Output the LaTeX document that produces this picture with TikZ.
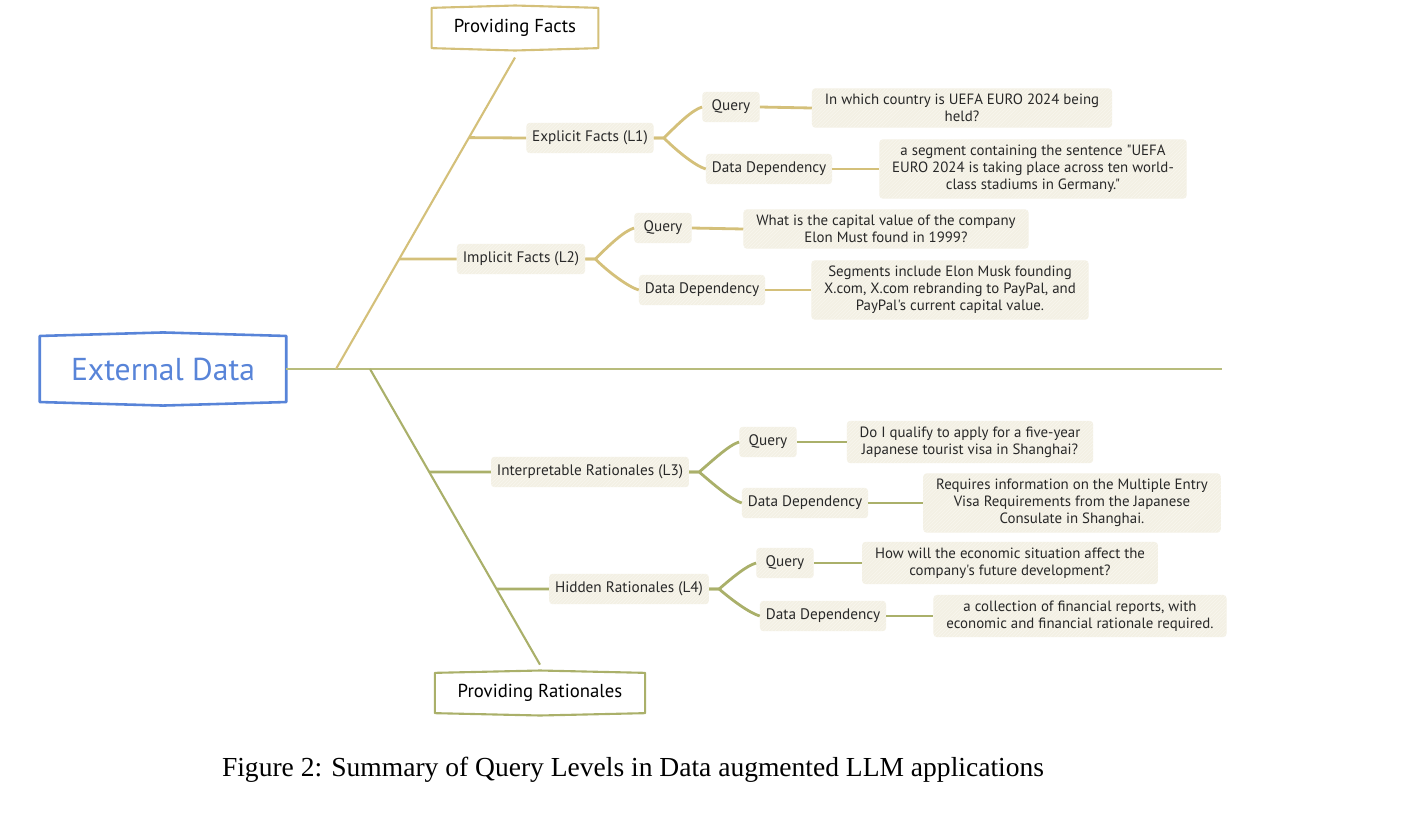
\documentclass[tikz,border=0pt]{standalone}
\usepackage{fontspec}
\setmainfont{Liberation Serif}
\newfontfamily\handfont{PT Sans}
\usetikzlibrary{positioning, calc, patterns}

\definecolor{rootblue}{RGB}{88,132,216}
\definecolor{factgold}{RGB}{212,192,122}
\definecolor{ratolive}{RGB}{170,176,106}
\definecolor{stemline}{RGB}{184,188,124}
\definecolor{notefill}{RGB}{243,240,228}
\definecolor{notehatch}{RGB}{249,247,240}
\definecolor{inkgray}{RGB}{40,40,40}

\tikzset{
  root/.style={font=\handfont\fontsize{27}{31}\selectfont, text=rootblue,
    minimum width=210pt, minimum height=56pt, inner sep=0pt},
  topic/.style={font=\handfont\fontsize{16}{19}\selectfont, inner sep=0pt,
    minimum height=34pt},
  level/.style={font=\handfont\fontsize{13}{14.5}\selectfont, text=inkgray,
    fill=notefill, rounded corners=3pt,
    postaction={pattern=north east lines, pattern color=notehatch},
    inner xsep=5pt, inner ysep=4pt, minimum height=26pt},
  leaf/.style={level},
  note/.style={level, font=\handfont\fontsize{12.7}{14.5}\selectfont,
    align=center, inner xsep=11pt, inner ysep=5pt},
  frame/.style={line width=2.2pt, line join=round},
  stem/.style={line width=1.8pt},
  twig/.style={line width=2.4pt},
}

\begin{document}
\begin{tikzpicture}[x=0.03cm, y=-0.03cm]
    \useasboundingbox (0,0) rectangle (1404,812);

    % Root and main line
    \node[root] (ext) at (163,369) {External Data};
    \draw[frame, rootblue] (ext.north west) -- ([yshift=3pt]ext.north) -- (ext.north east)
        -- (ext.south east) -- ([yshift=-3pt]ext.south) -- (ext.south west) -- cycle;
    \coordinate (mainend) at (1222,369);
    \coordinate (factroot) at (336,369);
    \coordinate (ratroot) at (370,369);
    \draw[stem, stemline] (ext.east) -- (mainend);

    % Topics
    \node[topic, minimum width=142pt] (facts) at (515,28) {Providing Facts};
    \draw[frame, factgold, line width=1.8pt] (facts.north west) -- ([yshift=2pt]facts.north) -- (facts.north east)
        -- (facts.south east) -- ([yshift=-2pt]facts.south) -- (facts.south west) -- cycle;
    \node[topic, minimum width=179pt] (rats) at (540,693) {Providing Rationales};
    \draw[frame, ratolive, line width=1.8pt] (rats.north west) -- ([yshift=2pt]rats.north) -- (rats.north east)
        -- (rats.south east) -- ([yshift=-2pt]rats.south) -- (rats.south west) -- cycle;

    \draw[stem, factgold] (factroot) -- ([yshift=-8pt]facts.south);
    \draw[stem, ratolive] (ratroot) -- ([yshift=7pt]rats.north);

    % Providing facts: L1 and L2
    \node[level] (l1) at (590,138) {Explicit Facts (L1)};
    \node[leaf, inner xsep=8pt] (l1q) at (731,107) {Query};
    \node[leaf] (l1d) at (769,169) {Data Dependency};
    \node[note] (l1qt) at (962,108) {In which country is UEFA EURO 2024 being\\held?};
    \node[note] (l1dt) at (1033,169) {a segment containing the sentence "UEFA\\EURO 2024 is taking place across ten world-\\class stadiums in Germany."};

    \node[level] (l2) at (521,259) {Implicit Facts (L2)};
    \node[leaf, inner xsep=8pt] (l2q) at (663,228) {Query};
    \node[leaf] (l2d) at (702,290) {Data Dependency};
    \node[note] (l2qt) at (886,229) {What is the capital value of the company\\Elon Must found in 1999?};
    \node[note] (l2dt) at (950,290) {Segments include Elon Musk founding\\X.com, X.com rebranding to PayPal, and\\PayPal's current capital value.};

    \coordinate (f1) at ($(factroot)!0.744!(515,58)$);
    \coordinate (f2) at ($(factroot)!0.354!(515,58)$);
    \draw[twig, factgold] (f1) -- (l1.west);
    \draw[twig, factgold] (f2) -- (l2.west);
    \foreach \n in {l1, l2} {
        \draw[twig, factgold] (\n.east) -- ++(10,0) .. controls +(14,-14) and +(-10,3) .. (\n q.west);
        \draw[twig, factgold] (\n.east) -- ++(10,0) .. controls +(14,14) and +(-10,-3) .. (\n d.west);
        \draw[twig, factgold] (\n q.east) -- (\n qt.west);
        \draw[twig, factgold] (\n d.east) -- (\n dt.west);
    }

    % Providing rationales: L3 and L4
    \node[level] (l3) at (590,472) {Interpretable Rationales (L3)};
    \node[leaf, inner xsep=8pt] (l3q) at (768,442) {Query};
    \node[leaf] (l3d) at (805,503) {Data Dependency};
    \node[note] (l3qt) at (970,442) {Do I qualify to apply for a five-year\\Japanese tourist visa in Shanghai?};
    \node[note] (l3dt) at (1072,503) {Requires information on the Multiple Entry\\Visa Requirements from the Japanese\\Consulate in Shanghai.};

    \node[level] (l4) at (629,589) {Hidden Rationales (L4)};
    \node[leaf, inner xsep=8pt] (l4q) at (785,563) {Query};
    \node[leaf] (l4d) at (823,616) {Data Dependency};
    \node[note] (l4qt) at (1010,563) {How will the economic situation affect the\\company's future development?};
    \node[note] (l4dt) at (1080,616) {a collection of financial reports, with\\economic and financial rationale required.};

    \coordinate (r3) at ($(ratroot)!0.348!(540,665)$);
    \coordinate (r4) at ($(ratroot)!0.743!(540,665)$);
    \draw[twig, ratolive] (r3) -- (l3.west);
    \draw[twig, ratolive] (r4) -- (l4.west);
    \foreach \n in {l3, l4} {
        \draw[twig, ratolive] (\n.east) -- ++(10,0) .. controls +(14,-12) and +(-10,3) .. (\n q.west);
        \draw[twig, ratolive] (\n.east) -- ++(10,0) .. controls +(14,12) and +(-10,-3) .. (\n d.west);
        \draw[twig, ratolive] (\n q.east) -- (\n qt.west);
        \draw[twig, ratolive] (\n d.east) -- (\n dt.west);
    }

    % Caption
    \node[font=\fontsize{23.5}{27}\selectfont] (cap) at (633,770) {Figure 2: Summary of Query Levels in Data augmented LLM applications};
\end{tikzpicture}
\end{document}
